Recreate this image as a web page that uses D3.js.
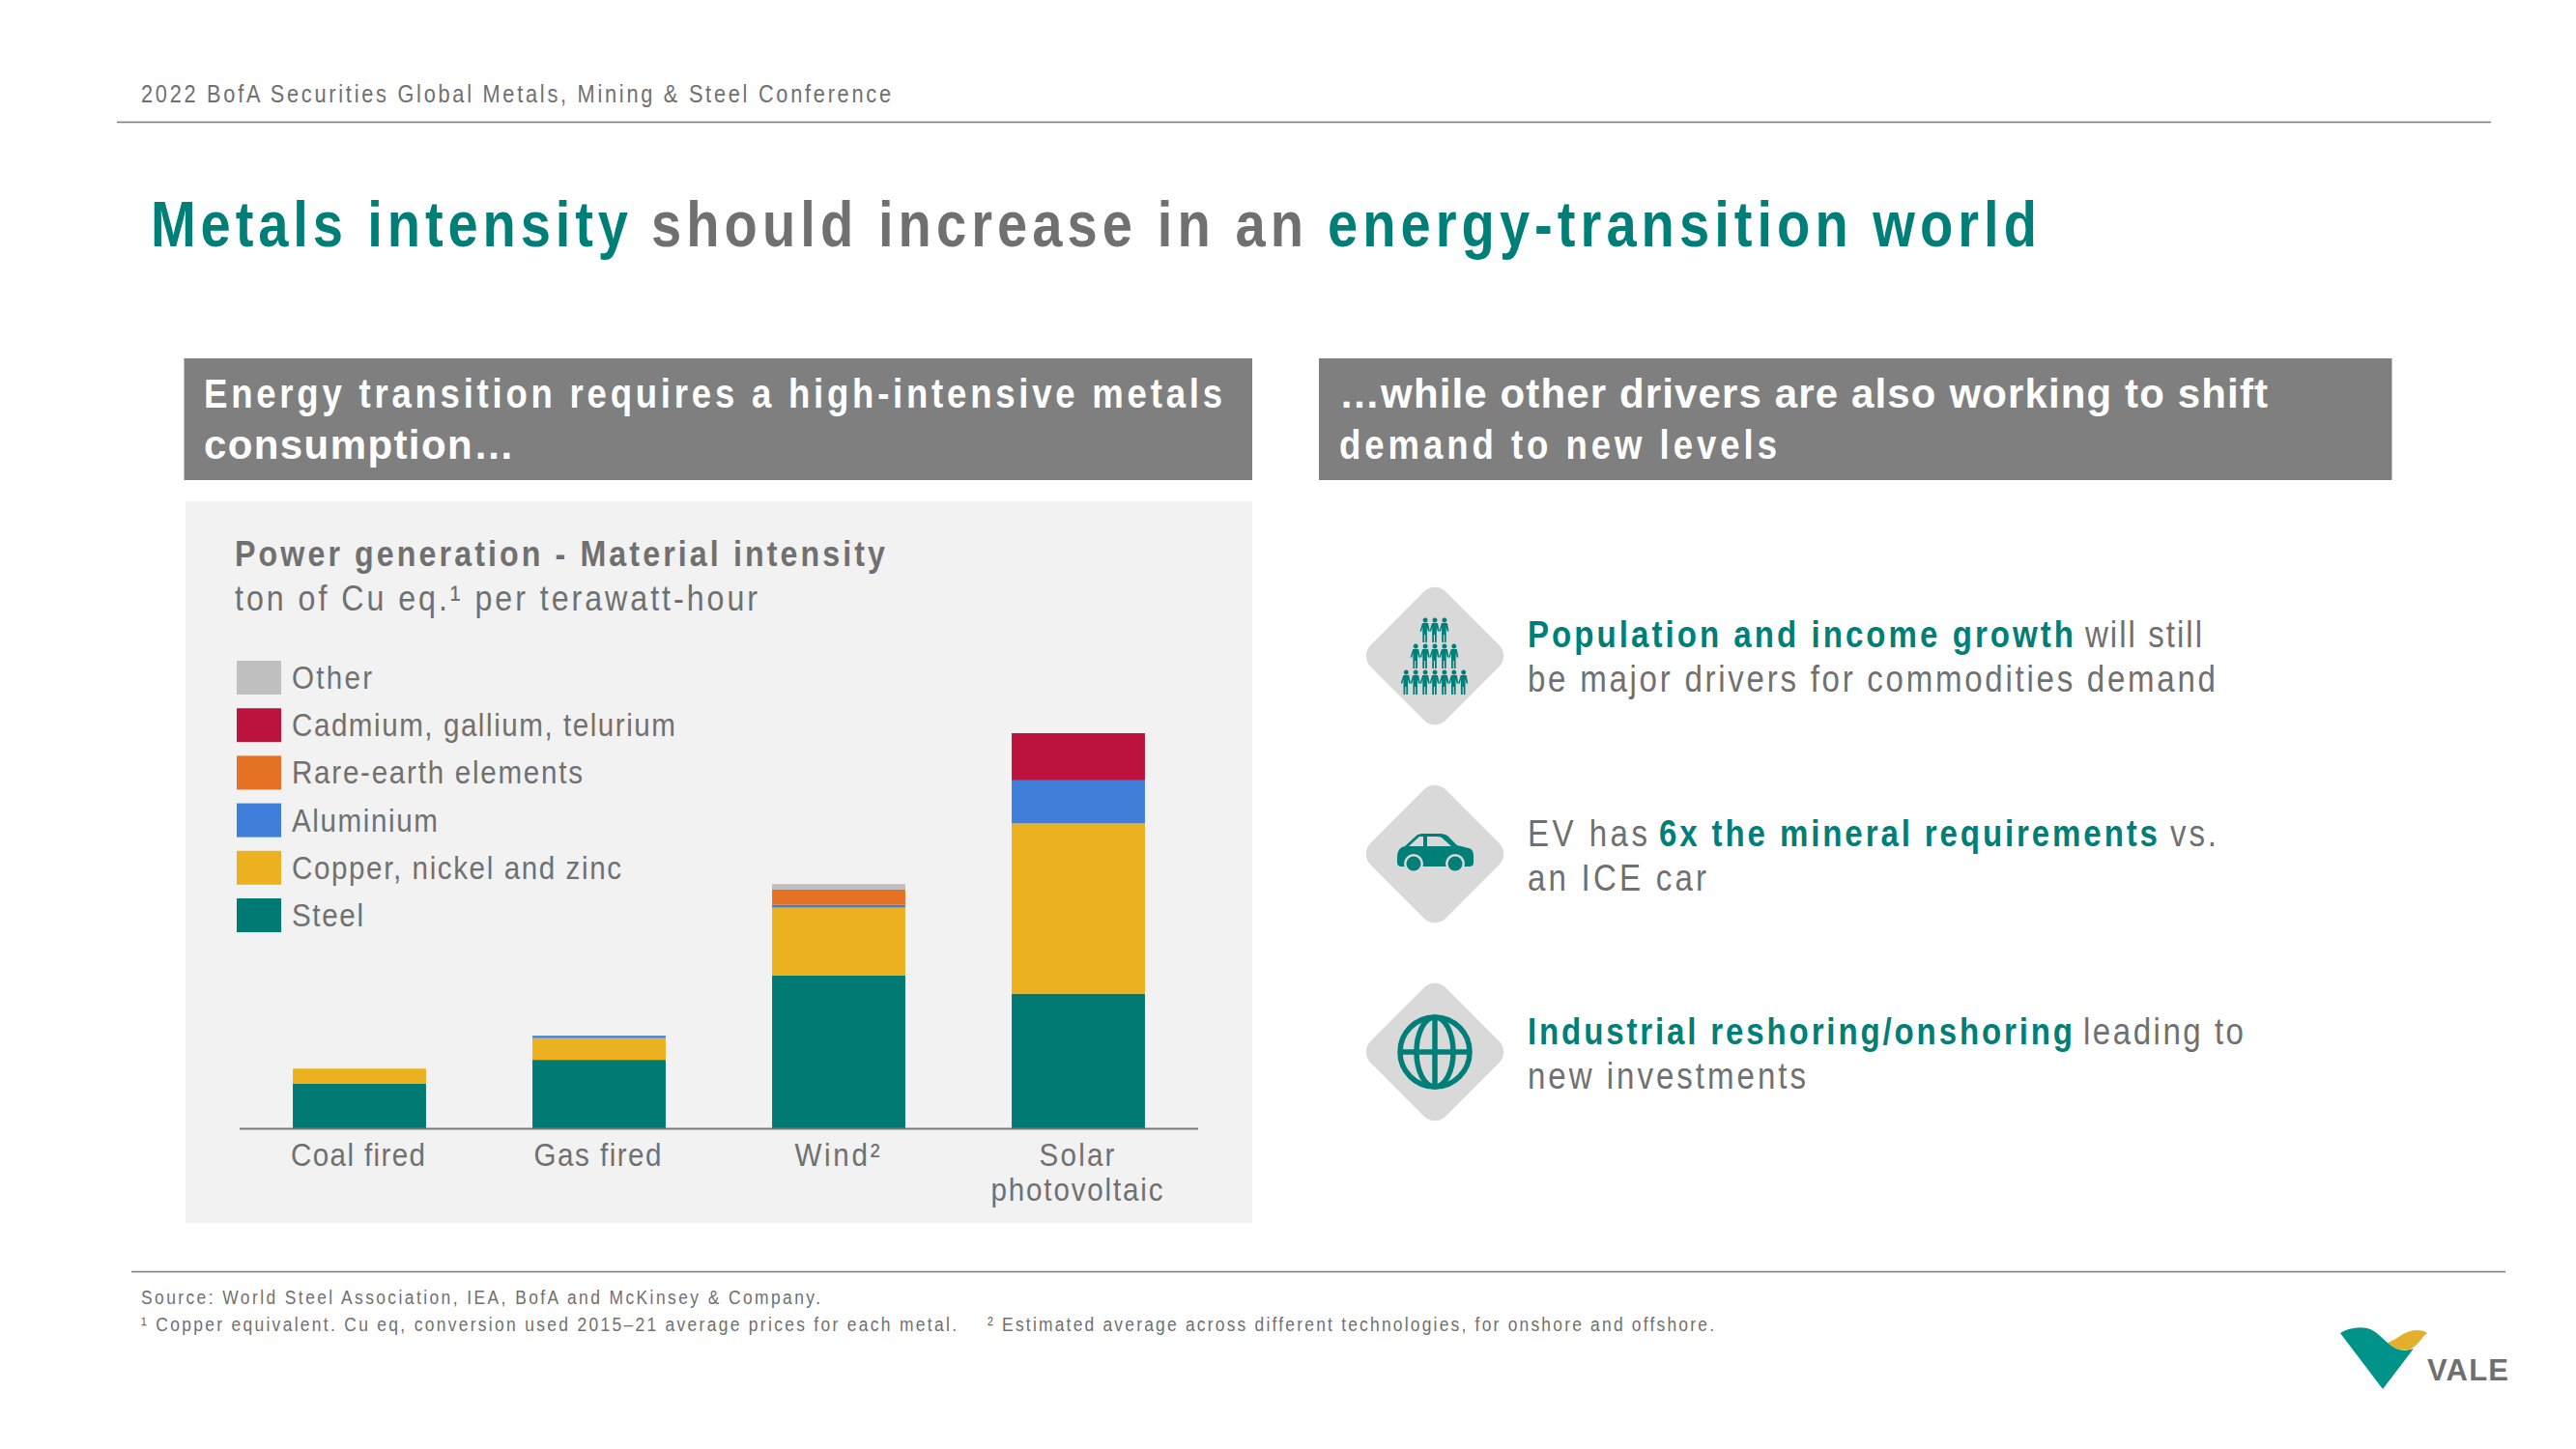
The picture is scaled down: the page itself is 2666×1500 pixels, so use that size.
<!DOCTYPE html>
<html><head><meta charset="utf-8">
<script src="https://cdn.jsdelivr.net/npm/d3@7/dist/d3.min.js"></script>
<style>html,body{margin:0;padding:0;background:#fff}svg{display:block}text{font-family:"Liberation Sans",Arial,sans-serif}</style>
</head><body><svg id="c" width="2666" height="1500"></svg>
<script>
const categories = ["Coal fired","Gas fired","Wind²","Solar"];
const seriesNames = ["Steel","Copper, nickel and zinc","Aluminium","Rare-earth elements","Cadmium, gallium, telurium","Other"];
const steel    = [96,148,330,291];
const copper   = [33,47,147,368];
const aluminium= [0,5,6,93];
const rareEarth= [0,0,33,0];
const cadmium  = [0,0,0,102];
const other    = [0,0,12,0];
const seriesColors = ["#007a72","#ebb11f","#3f7edb","#e57124","#bb133e","#bfbfbf"];
const seriesValues = [steel,copper,aluminium,rareEarth,cadmium,other];

const TEAL="#007e78", GREY="#707070", HS=0.87;
const svg=d3.select("#c");
function txt(x,y,s,size,opt={}){
  const hs=opt.hs||HS;
  const t=svg.append("text").attr("transform",`translate(${x},${y}) scale(${hs},1)`).attr("font-size",size)
    .attr("fill",opt.fill||GREY).attr("font-weight",opt.bold?"bold":"normal").text(s);
  if(opt.w){t.attr("textLength",opt.w/hs).attr("lengthAdjust","spacing");}
  return t;
}
function line(x1,x2,y,c,w){svg.append("line").attr("x1",x1).attr("x2",x2).attr("y1",y).attr("y2",y).attr("stroke",c).attr("stroke-width",w);}

// header
txt(146,106,"2022 BofA Securities Global Metals, Mining & Steel Conference",25,{w:776});
line(121,2578,126.5,"#7a7a7a",1.5);
txt(156,255,"Metals intensity",66,{bold:1,fill:TEAL,w:494,hs:.85});
txt(674,255,"should increase in an",66,{bold:1,w:675,hs:.85});
txt(1374,255,"energy-transition world",66,{bold:1,fill:TEAL,w:734,hs:.85});

// column headers
svg.append("rect").attr("x",190.5).attr("y",371).attr("width",1105.5).attr("height",126).attr("fill","#7f7f7f");
svg.append("rect").attr("x",1365).attr("y",371).attr("width",1110.5).attr("height",126).attr("fill","#7f7f7f");
txt(211,422,"Energy transition requires a high-intensive metals",42,{bold:1,fill:"#fff",w:1054});
txt(211,475,"consumption…",42,{bold:1,fill:"#fff",w:321,hs:1});
txt(1386,422,"…while other drivers are also working to shift",42,{bold:1,fill:"#fff",w:961,hs:1});
txt(1386,475,"demand to new levels",42,{bold:1,fill:"#fff",w:453});

// panel
svg.append("rect").attr("x",192).attr("y",519).attr("width",1104).attr("height",747).attr("fill","#f2f2f2");
txt(243,586,"Power generation - Material intensity",37,{bold:1,w:673});
txt(243,632,"ton of Cu eq.¹ per terawatt-hour",37,{w:541});

// chart
const x=d3.scaleBand().domain(categories).range([248,1240]).paddingInner(0.444).paddingOuter(0.222);
const y=d3.scaleLinear().domain([0,854]).range([1168,759]);
const rows=categories.map((c,i)=>{const r={cat:c};seriesNames.forEach((s,j)=>r[s]=seriesValues[j][i]);return r;});
const stacked=d3.stack().keys(seriesNames)(rows);
svg.append("g").selectAll("g").data(stacked).join("g").attr("fill",(d,i)=>seriesColors[i])
  .selectAll("rect").data(d=>d.filter(p=>p[1]>p[0])).join("rect")
  .attr("x",d=>x(d.data.cat)).attr("width",x.bandwidth())
  .attr("y",d=>y(d[1])).attr("height",d=>y(d[0])-y(d[1]));
line(248,1240,1168.5,"#7a7a7a",2);

// category labels
const catWidths=[139,132,88,78];
categories.forEach((c,i)=>{
  const cx=x(c)+x.bandwidth()/2-1.5;
  txt(cx-catWidths[i]/2,1207,c,34,{w:catWidths[i]});
});
const sc=x("Solar")+x.bandwidth()/2-1;
txt(sc-89.5,1243,"photovoltaic",34,{w:178});

// legend
const legW={"Other":85,"Cadmium, gallium, telurium":399,"Rare-earth elements":303,"Aluminium":153,"Copper, nickel and zinc":343,"Steel":76};
seriesNames.slice().reverse().forEach((s,i)=>{
  const col=seriesColors[seriesNames.indexOf(s)];
  svg.append("rect").attr("x",245).attr("y",684+i*49.2).attr("width",46).attr("height",35).attr("fill",col);
  txt(302,713+i*49.2,s,34,{w:legW[s]-2});
});

// icons
function diamond(cy){
  const g=svg.append("g").attr("transform",`translate(1485,${cy})`);
  g.append("rect").attr("x",-55).attr("y",-55).attr("width",110).attr("height",110).attr("rx",16)
    .attr("transform","rotate(45)").attr("fill","#d9d9d9").attr("stroke","none");
  return g;
}
const ICON="#007e78";
// people
{
 const g=diamond(679);
 const person="M0,-12.5a2.5,2.5 0 1,1 -0.01,0zM-3,-7h6l1.6,8.5h-1.7l-1.1,-4.5v16h-1.8v-8h-1v8h-1.8v-16l-1.1,4.5h-1.7z";
 [[3,-28],[5,-1],[7,26]].forEach(([n,cy])=>{
   for(let k=0;k<n;k++) g.append("path").attr("d",person)
     .attr("transform",`translate(${(k-(n-1)/2)*9.9},${cy+1})`).attr("fill",ICON);
 });
}
// car
{
 const g=diamond(884);
 g.append("path").attr("fill",ICON).attr("fill-rule","evenodd").attr("d",
  "M-39,5 C-39,-4 -36,-7 -31,-8 L-19,-19 C-18,-20 -16,-21 -13,-21 L6,-21 C9,-21 11,-20 13,-19 L23,-9 L35,-6 C39,-5 40,-2 40,3 L40,9 C40,12 38,13 35,13 L-34,13 C-38,13 -39,11 -39,8 Z M-27,-8 L-12,-8 L-12,-18 L-16,-18 Z M-8,-8 L17,-8 L7,-17 Q5,-18 2,-18 L-8,-18 Z");
 [[-22,10],[21,10]].forEach(([cx,cy])=>{
   g.append("circle").attr("cx",cx).attr("cy",cy).attr("r",10).attr("fill","#d9d9d9");
   g.append("circle").attr("cx",cx).attr("cy",cy).attr("r",7.5).attr("fill",ICON);
 });
}
// globe
{
 const g=diamond(1089);
 const s=g.append("g").attr("fill","none").attr("stroke",ICON).attr("stroke-width",5.5);
 s.append("circle").attr("r",36);
 s.append("ellipse").attr("rx",19).attr("ry",36);
 s.append("line").attr("x1",0).attr("x2",0).attr("y1",-36).attr("y2",36);
 s.append("line").attr("x1",-36).attr("x2",36).attr("y1",0).attr("y2",0);
}

// right text
const T={size:38};
txt(1581,670,"Population and income growth",T.size,{bold:1,fill:TEAL,w:565});
txt(2158,670,"will still",T.size,{w:121});
txt(1581,716,"be major drivers for commodities demand",T.size,{w:712});
txt(1581,876,"EV has",T.size,{w:124});
txt(1717,876,"6x the mineral requirements",T.size,{bold:1,fill:TEAL,w:516});
txt(2246,876,"vs.",T.size,{w:48});
txt(1581,922,"an ICE car",T.size,{w:185});
txt(1581,1081,"Industrial reshoring/onshoring",T.size,{bold:1,fill:TEAL,w:564});
txt(2156,1081,"leading to",T.size,{w:166});
txt(1581,1127,"new investments",T.size,{w:288});

// footer
line(136,2593,1316.5,"#7a7a7a",1.5);
txt(146,1349.5,"Source: World Steel Association, IEA, BofA and McKinsey & Company.",20,{w:703});
txt(146,1377.5,"¹ Copper equivalent. Cu eq, conversion used 2015–21 average prices for each metal.",20,{w:844});
txt(1022,1377.5,"² Estimated average across different technologies, for onshore and offshore.",20,{w:752});

// logo
svg.append("path").attr("fill","#e3b02d").attr("d","M2471,1390 C2482,1386 2487,1378 2500,1377 C2506,1377 2510,1378 2512,1380 C2506,1384 2504,1392 2494,1397 C2486,1399 2478,1396 2471,1390Z");
svg.append("path").attr("fill","#00938a").attr("d","M2422,1380 C2430,1375 2440,1373 2450,1375 C2462,1378 2470,1392 2480,1396 C2487,1399 2493,1398 2498,1396 L2466,1438 Z");
txt(2512,1429,"VALE",31,{bold:1,fill:"#6f6f6f",w:84,hs:1});
</script></body></html>
